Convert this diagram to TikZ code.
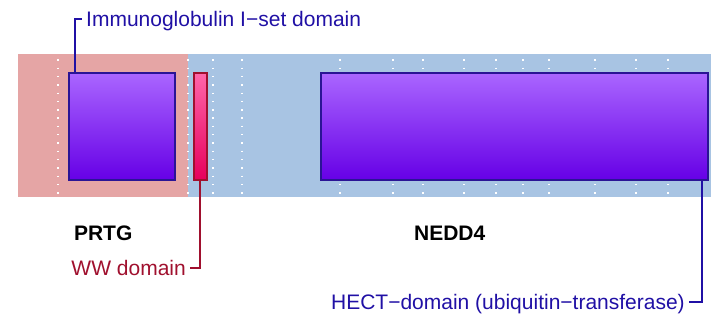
\documentclass[tikz,border=0pt]{standalone}
\usepackage{fontspec}
\setmainfont{Liberation Sans}
\usepackage{tikz}
\usetikzlibrary{positioning}

\definecolor{prtgbg}{HTML}{E5A5A5}
\definecolor{neddbg}{HTML}{A8C4E3}
\definecolor{domtop}{HTML}{AA66FF}
\definecolor{dombot}{HTML}{6600E6}
\definecolor{domedge}{HTML}{2A1495}
\definecolor{domtext}{HTML}{2010A5}
\definecolor{wwtop}{HTML}{FF66AA}
\definecolor{wwbot}{HTML}{E6005C}
\definecolor{wwedge}{HTML}{A0102E}

\begin{document}
\begin{tikzpicture}[
    x=1pt, y=-1pt,
    font=\fontsize{21pt}{25pt}\selectfont,
    region/.style={draw=none, inner sep=0pt, minimum height=143pt, anchor=north west},
    gridline/.style={white, line width=1.4pt, dash pattern=on 1.4pt off 6.9pt},
    domainbox/.style={draw=domedge, line width=1.5pt, top color=domtop, bottom color=dombot, inner sep=0pt, minimum height=107pt, anchor=north west},
    wwbox/.style={draw=wwedge, line width=1.5pt, top color=wwtop, bottom color=wwbot, inner sep=0pt, minimum height=107pt, anchor=north west},
    domaintext/.style={inner xsep=4pt, inner ysep=0pt, text height=15pt, text depth=0pt},
    species/.style={font=\fontsize{21pt}{25pt}\selectfont\bfseries, inner sep=0pt, text height=15pt, text depth=0pt},
    callout/.style={line width=2pt}
]
\useasboundingbox (0,0) rectangle (719,327);

% species backgrounds
\node[region, fill=prtgbg, minimum width=170pt] (prtg) at (18,54) {};
\node[region, fill=neddbg, minimum width=523pt] (nedd) at (188,54) {};

\foreach \x in {58,188,213,242,340,393,423,464,496,523,549,595,636,668}
    \draw[gridline] (\x,59.3) -- (\x,197);

% domains
\node[domainbox, minimum width=106pt] (igset) at (68,72) {};
\node[wwbox, minimum width=13pt] (ww) at (193,72) {};
\node[domainbox, minimum width=387pt] (hect) at (320,72) {};

% species names
\node[species, below=28pt of prtg] (prtgname) {PRTG};
\node[species, below=28pt of nedd] (neddname) {NEDD4};

% domain labels
\node[domaintext, text=domtext, anchor=west] (iglabel) at (82,18.5) {Immunoglobulin I−set domain};
\node[domaintext, text=wwedge, anchor=east] (wwlabel) at (190,267.5) {WW domain};
\node[domaintext, text=domtext, anchor=east] (hectlabel) at (689,302) {HECT−domain (ubiquitin−transferase)};

\draw[callout, domtext] ([xshift=7pt]igset.north west) |- (iglabel.west);
\draw[callout, wwedge] (ww.south) |- (wwlabel.east);
\draw[callout, domtext] ([xshift=-7pt]hect.south east) |- (hectlabel.east);
\end{tikzpicture}
\end{document}
